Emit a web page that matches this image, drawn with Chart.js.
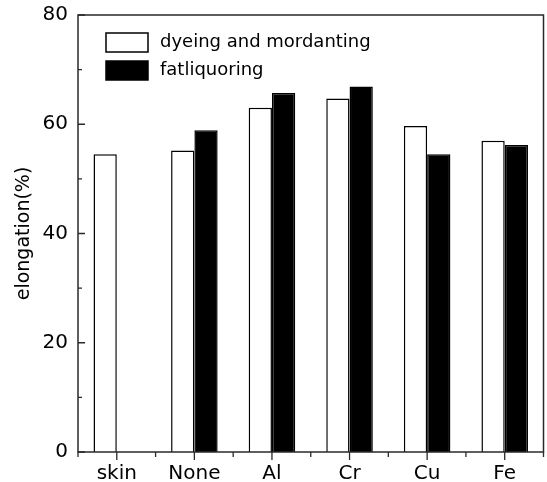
<!DOCTYPE html>
<html>
<head>
<meta charset="utf-8">
<script src="https://cdn.jsdelivr.net/npm/chart.js@4/dist/chart.umd.min.js"></script>
<style>
html,body{margin:0;padding:0;background:#fff;}
#wrap{width:547px;height:482px;position:relative;}
</style>
</head>
<body>
<div id="wrap"><canvas id="c" width="547" height="482"></canvas></div>
<script>
const categories = ["skin", "None", "Al", "Cr", "Cu", "Fe"];
const dyeingValues = [54.5, 55.2, 63.0, 64.7, 59.7, 57.0];
const fatliquoringValues = [null, 58.9, 65.7, 66.9, 54.5, 56.2];
const seriesLabels = ["dyeing and mordanting", "fatliquoring"];
const yTicks = [0, 20, 40, 60, 80];
const yMinorTicks = [10, 30, 50, 70];
const axisTitle = "elongation(%)";

const FONT = "'DejaVu Sans', sans-serif";

const framePlugin = {
  id: 'frame',
  afterDraw(chart) {
    const {ctx, chartArea: a, scales: {x, y}} = chart;
    ctx.save();
    ctx.strokeStyle = '#2a2a2a';
    ctx.lineWidth = 1.5;
    ctx.strokeRect(a.left, a.top, a.right - a.left, a.bottom - a.top);
    ctx.lineWidth = 1.3;
    ctx.beginPath();
    yTicks.forEach(v => { const py = y.getPixelForValue(v); ctx.moveTo(a.left, py); ctx.lineTo(a.left + 7, py); });
    yMinorTicks.forEach(v => { const py = y.getPixelForValue(v); ctx.moveTo(a.left, py); ctx.lineTo(a.left + 4, py); });
    categories.forEach((c, i) => { const px = x.getPixelForValue(i); ctx.moveTo(px, a.bottom); ctx.lineTo(px, a.bottom + 8); });
    for (let i = 0; i <= categories.length; i++) {
      const px = x.getPixelForValue(i - 0.5);
      ctx.moveTo(px, a.bottom); ctx.lineTo(px, a.bottom + 5);
    }
    ctx.stroke();
    // legend
    const lx = a.left + 28, ly = a.top + 18;
    chart.data.datasets.forEach((ds, i) => {
      const by = ly + i * 28;
      ctx.fillStyle = ds.backgroundColor;
      ctx.fillRect(lx, by, 42, 19);
      ctx.strokeStyle = '#000';
      ctx.lineWidth = 1.5;
      ctx.strokeRect(lx, by, 42, 19);
      ctx.fillStyle = '#000';
      ctx.font = '18px ' + FONT;
      ctx.textBaseline = 'middle';
      ctx.textAlign = 'left';
      ctx.fillText(ds.label, lx + 54, by + 9.5);
    });
    ctx.restore();
  }
};

new Chart(document.getElementById('c'), {
  type: 'bar',
  data: {
    labels: categories,
    datasets: [
      { label: seriesLabels[0], data: dyeingValues, backgroundColor: '#ffffff', borderColor: '#000000', borderWidth: 1.5 },
      { label: seriesLabels[1], data: fatliquoringValues, backgroundColor: '#000000', borderColor: '#000000', borderWidth: 1.5 }
    ]
  },
  options: {
    responsive: false,
    animation: false,
    devicePixelRatio: 1,
    layout: { padding: { top: 15, right: 3.5, left: 0, bottom: 0 } },
    datasets: { bar: { categoryPercentage: 0.6, barPercentage: 1.0 } },
    plugins: { legend: { display: false }, tooltip: { enabled: false } },
    scales: {
      x: {
        offset: true,
        grid: { display: false, drawTicks: false },
        border: { display: false },
        ticks: { color: '#000', font: { family: FONT, size: 20 }, padding: 10, maxRotation: 0 },
        afterFit(s) { s.height = 30; s.paddingLeft = 0; s.paddingRight = 0; }
      },
      y: {
        min: 0, max: 80,
        afterBuildTicks(s) { s.ticks = yTicks.map(v => ({ value: v })); },
        grid: { display: false, drawTicks: false },
        border: { display: false },
        ticks: { color: '#000', font: { family: FONT, size: 20 }, padding: 10 },
        title: { display: true, text: axisTitle, color: '#000', font: { family: FONT, size: 19 }, padding: { top: 13, bottom: 0 } },
        afterFit(s) { s.width = 78; s.paddingTop = 0; s.paddingBottom = 0; }
      }
    }
  },
  plugins: [framePlugin]
});
</script>
</body>
</html>
